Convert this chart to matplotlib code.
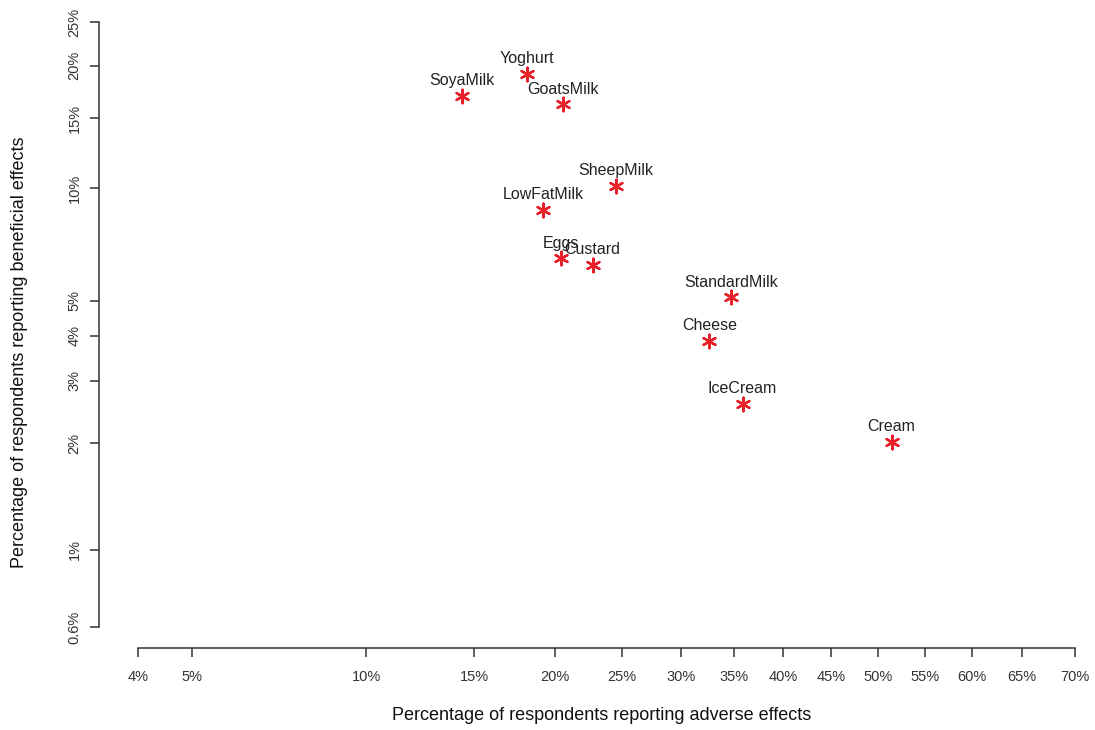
import numpy as np
import matplotlib
matplotlib.use("Agg")
import matplotlib.pyplot as plt
from matplotlib.ticker import FixedLocator, FixedFormatter, NullLocator

plt.rcParams["font.family"] = ["Liberation Sans", "DejaVu Sans"]

# Food items with the share of respondents reporting adverse / beneficial effects
foods = ["SoyaMilk", "Yoghurt", "GoatsMilk", "SheepMilk", "LowFatMilk", "Eggs",
         "Custard", "StandardMilk", "Cheese", "IceCream", "Cream"]
adverse = [0.1437, 0.1812, 0.2052, 0.2451, 0.1920, 0.2040,
           0.2270, 0.3470, 0.3265, 0.3587, 0.5148]
beneficial = [0.170, 0.191, 0.162, 0.101, 0.0876, 0.0651,
              0.0625, 0.0510, 0.0388, 0.0258, 0.0202]

x_ticks = [0.04, 0.05, 0.10, 0.15, 0.20, 0.25, 0.30, 0.35, 0.40, 0.45,
           0.50, 0.55, 0.60, 0.65, 0.70]
x_tick_labels = ["4%", "5%", "10%", "15%", "20%", "25%", "30%", "35%", "40%",
                 "45%", "50%", "55%", "60%", "65%", "70%"]
y_ticks = [0.006, 0.01, 0.02, 0.03, 0.04, 0.05, 0.10, 0.15, 0.20, 0.25]
y_tick_labels = ["0.6%", "1%", "2%", "3%", "4%", "5%", "10%", "15%", "20%", "25%"]

W, H = 1095, 730
fig = plt.figure(figsize=(W / 100, H / 100), dpi=100)
left_px, right_px, top_px, bottom_px = 99, 1095, 0, 648
ax = fig.add_axes([left_px / W, (H - bottom_px) / H,
                   (right_px - left_px) / W, (bottom_px - top_px) / H])

ax.set_xscale("logit")
ax.set_yscale("logit")
ax.set_xlim(0.03404, 0.7176)
ax.set_ylim(0.00523, 0.2786)

red = "#e8202a"
ax.scatter(adverse, beneficial, marker=(6, 2, 0), s=95, color=red,
           linewidths=1.7, zorder=3)
for name, xv, yv in zip(foods, adverse, beneficial):
    ax.annotate(name, (xv, yv), xytext=(0, 11), textcoords="offset points",
                ha="center", va="center", fontsize=11.5, color="#222222")

for s in ("top", "right"):
    ax.spines[s].set_visible(False)
for s in ("left", "bottom"):
    ax.spines[s].set_color("#333333")
    ax.spines[s].set_linewidth(1.1)
ax.spines["bottom"].set_bounds(x_ticks[0], x_ticks[-1])
ax.spines["left"].set_bounds(y_ticks[0], y_ticks[-1])

ax.xaxis.set_major_locator(FixedLocator(x_ticks))
ax.xaxis.set_major_formatter(FixedFormatter(x_tick_labels))
ax.yaxis.set_major_locator(FixedLocator(y_ticks))
ax.yaxis.set_major_formatter(FixedFormatter(y_tick_labels))
ax.xaxis.set_minor_locator(NullLocator())
ax.yaxis.set_minor_locator(NullLocator())
ax.tick_params(axis="both", direction="out", length=6.5, width=1.1,
               color="#333333", labelcolor="#333333", labelsize=10.5)
ax.tick_params(axis="x", pad=9)
ax.tick_params(axis="y", pad=6)
for lbl in ax.get_yticklabels():
    lbl.set_rotation(90)
    lbl.set_va("center")

fig.text(602 / W, 1 - 716 / H, "Percentage of respondents reporting adverse effects",
         ha="center", va="center", fontsize=13, color="#111111")
fig.text(20 / W, 1 - 352 / H, "Percentage of respondents reporting beneficial effects",
         ha="center", va="center", rotation=90, fontsize=13, color="#111111")

fig.savefig("out.png", dpi=100, facecolor="white")
